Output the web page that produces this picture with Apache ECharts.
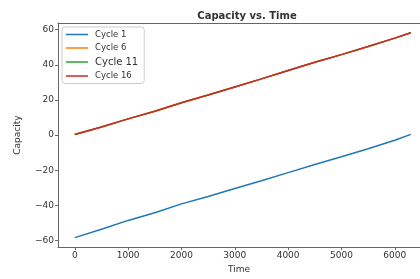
<!DOCTYPE html>
<html>
<head>
<meta charset="utf-8">
<script src="https://cdn.jsdelivr.net/npm/echarts@6/dist/echarts.min.js"></script>
<style>
  html, body { margin: 0; padding: 0; background: #fff; }
  #chart { width: 420px; height: 279px; }
</style>
</head>
<body>
<div id="chart"></div>
<script>
  // values
  var times = [0, 500, 1000, 1500, 2000, 2500, 3000, 3500, 4000, 4500, 5000, 5500, 6000, 6300]
  var cycle1 = [-58.4, -53.6, -48.6, -44.2, -39.2, -35.0, -30.4, -26.0, -21.4, -16.8, -12.4, -7.8, -3.0, 0.4]
  var cycle6 = [0.3, 4.6, 9.2, 13.6, 18.4, 22.8, 27.4, 32.0, 36.8, 41.4, 45.8, 50.4, 55.2, 58.2]
  var cycle11 = [0.3, 4.6, 9.2, 13.6, 18.4, 22.8, 27.4, 32.0, 36.8, 41.4, 45.8, 50.4, 55.2, 58.2]
  var cycle16 = [0.3, 4.6, 9.2, 13.6, 18.4, 22.8, 27.4, 32.0, 36.8, 41.4, 45.8, 50.4, 55.2, 58.2]
  var xTicks = [0, 1000, 2000, 3000, 4000, 5000, 6000]
  var yTicks = [-60, -40, -20, 0, 20, 40, 60]
  var names = ['Cycle 1', 'Cycle 6', 'Cycle 11', 'Cycle 16']
  var colors = ['#1f77b4', '#ff7f0e', '#2ca02c', '#d62728']

  function pairs (vals) {
    return times.map(function (t, i) { return [t, vals[i]] })
  }
  function plain (v) {
    return String(v).replace('-', '\u2212')
  }

  var chart = echarts.init(document.getElementById('chart'))
  var font = 'DejaVu Sans'
  var spine = '#666'
  // the original plot runs past the right edge of the picture, so the visible x range is cut short
  var xMin = -315
  var xMax = 6473
  var option = {
    animation: false,
    textStyle: { fontFamily: font },
    title: {
      text: 'Capacity vs. Time',
      left: 242,
      top: 6,
      textAlign: 'center',
      textStyle: { fontSize: 10, fontWeight: 'bold', color: '#333', fontFamily: font }
    },
    legend: {
      orient: 'vertical',
      left: 62,
      top: 27,
      padding: [3, 6, 3, 4],
      itemGap: 4.5,
      itemWidth: 22,
      itemHeight: 1.5,
      icon: 'rect',
      borderColor: '#ccc',
      borderWidth: 1,
      borderRadius: 3,
      textStyle: { fontSize: 8.5, color: '#333', fontFamily: font, padding: [0, 0, 0, 2] },
      data: [
        { name: names[0] },
        { name: names[1] },
        { name: names[2], textStyle: { fontSize: 10 } },
        { name: names[3] }
      ]
    },
    grid: {
      left: 58,
      top: 23,
      right: 0,
      bottom: 25
    },
    xAxis: [{
      type: 'value',
      min: xMin,
      max: xMax,
      name: 'Time',
      nameLocation: 'middle',
      nameGap: 16,
      nameTextStyle: { fontSize: 9, color: '#333', fontFamily: font },
      axisLine: { onZero: false, lineStyle: { color: spine, width: 1 } },
      axisTick: { show: true, length: 3, lineStyle: { color: spine }, customValues: xTicks },
      axisLabel: { fontSize: 9, color: '#333', margin: 4, customValues: xTicks, formatter: plain },
      splitLine: { show: false }
    }, {
      // top spine only
      type: 'value',
      position: 'top',
      min: xMin,
      max: xMax,
      axisLine: { show: true, onZero: false, lineStyle: { color: spine, width: 1 } },
      axisTick: { show: false },
      axisLabel: { show: false },
      splitLine: { show: false }
    }],
    yAxis: {
      type: 'value',
      min: -63.8,
      max: 63.8,
      name: 'Capacity',
      nameLocation: 'middle',
      nameGap: 36,
      nameRotate: 90,
      nameTextStyle: { fontSize: 9, color: '#333', fontFamily: font },
      axisLine: { show: true, onZero: false, lineStyle: { color: spine, width: 1 } },
      axisTick: { show: true, length: 3, lineStyle: { color: spine }, customValues: yTicks },
      axisLabel: { fontSize: 9, color: '#333', margin: 4, customValues: yTicks, formatter: plain },
      splitLine: { show: false }
    },
    series: [cycle1, cycle6, cycle11, cycle16].map(function (vals, i) {
      return {
        name: names[i],
        type: 'line',
        xAxisIndex: 0,
        data: pairs(vals),
        showSymbol: false,
        color: colors[i],
        lineStyle: { width: 1.5, color: colors[i] }
      }
    })
  }
  chart.setOption(option)
</script>
</body>
</html>
